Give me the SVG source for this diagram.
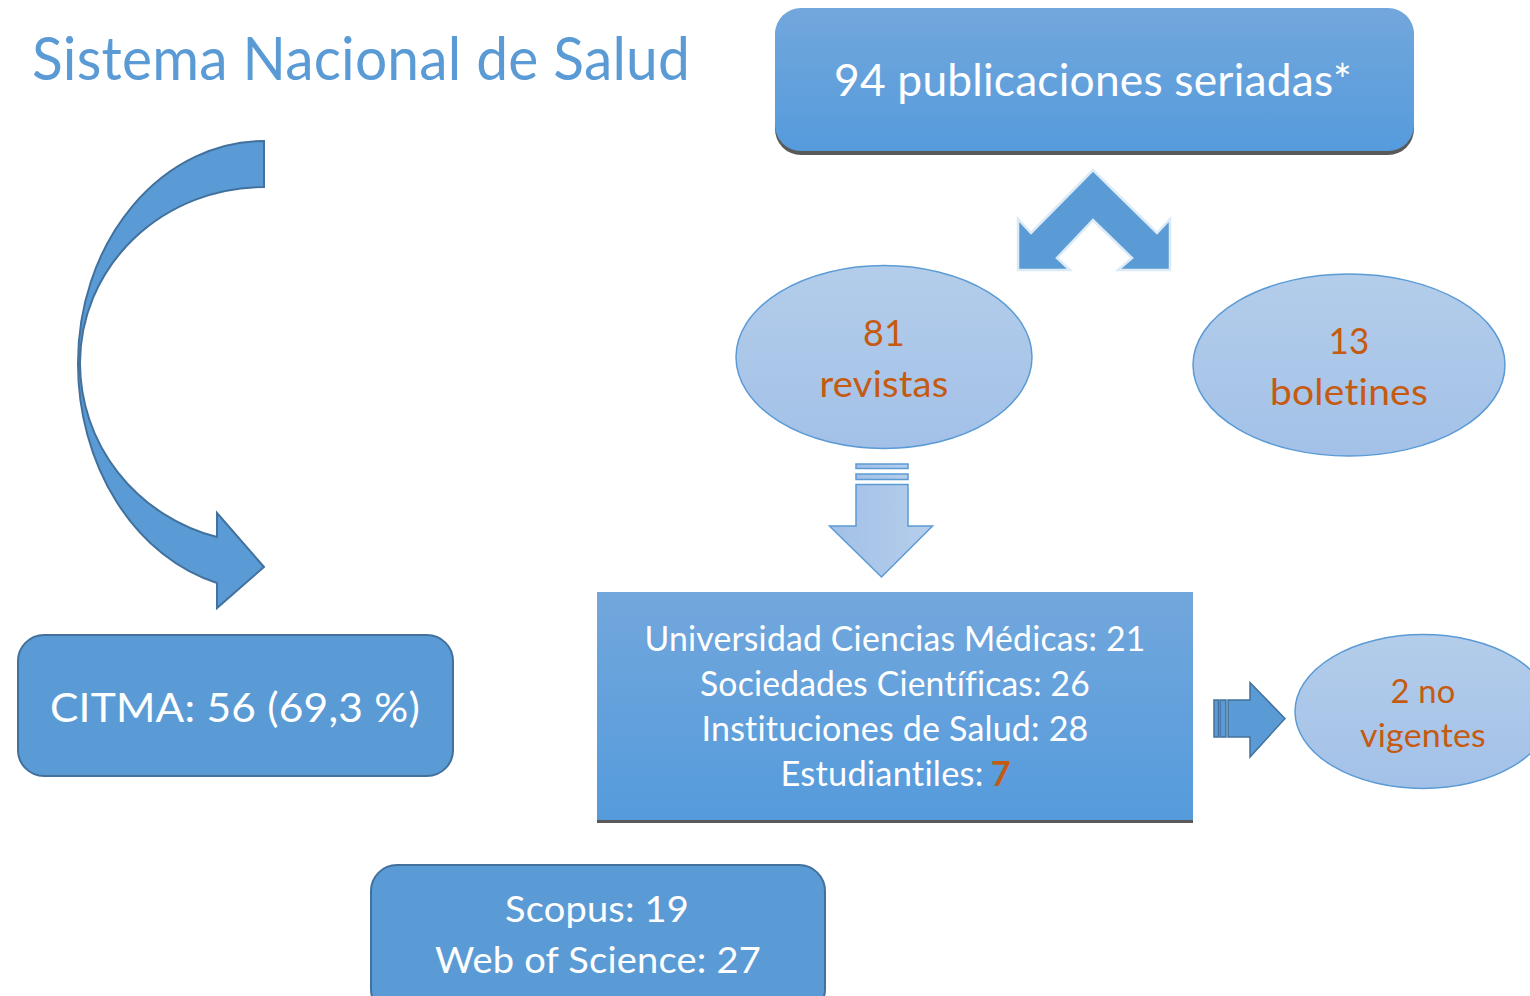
<svg xmlns="http://www.w3.org/2000/svg" width="1530" height="996" viewBox="0 0 1530 996">
<defs>
<linearGradient id="gBox" x1="0" y1="0" x2="0" y2="1">
<stop offset="0" stop-color="#72A7DC"/>
<stop offset="1" stop-color="#559BDC"/>
</linearGradient>
<linearGradient id="gEll" x1="0" y1="0" x2="0" y2="1">
<stop offset="0" stop-color="#B3CDEA"/>
<stop offset="1" stop-color="#A3C1E8"/>
</linearGradient>
<linearGradient id="gDown" x1="0" y1="0" x2="1" y2="0">
<stop offset="0" stop-color="#A2C0E7"/>
<stop offset="1" stop-color="#B5CEEB"/>
</linearGradient>
</defs>
<style>
text{font-family:"Lato","Open Sans","Liberation Sans",sans-serif;text-anchor:middle;font-variant-ligatures:none;font-feature-settings:"liga" 0,"dlig" 0,"clig" 0;letter-spacing:0.2px}
.w{fill:#FFFFFF}
.o{fill:#C55A11}
.solid{fill:#5B9BD5;stroke:#41719C;stroke-width:2}
.ell{fill:url(#gEll);stroke:#5B9BD5;stroke-width:1.5}
</style>
<rect width="1530" height="996" fill="#FFFFFF"/>

<g id="title">
<text x="361" y="80" font-size="60" style="fill:#5B9BD5" textLength="658" lengthAdjust="spacingAndGlyphs">Sistema Nacional de Salud</text>
</g>

<g id="connectors">
<g id="curved-arrow">
<path class="solid" d="M78,363 A186,227 0 0 0 217,583 L217,608 L264,567 L217,513 L217,537 A184,180 0 0 1 80,363 Z"/>
<path class="solid" d="M264,141 A186,222 0 0 0 78,363 L80,363 A184,176 0 0 1 264,187 Z"/>
</g>
<g id="split-arrow">
<polygon points="1018,219 1018,270 1070,270 1057,258 1093,220 1132,258 1118,270 1170,270 1170,219 1157,233 1093,170 1031,233" fill="#5B9BD5" stroke="#DDEBF7" stroke-width="2.5" stroke-linejoin="miter"/>
</g>
<g id="down-arrow" fill="url(#gDown)" stroke="#5B9BD5" stroke-width="1.5">
<rect x="856" y="464" width="52" height="4.5"/>
<rect x="856" y="474" width="52" height="5.5"/>
<polygon points="856,484.5 908,484.5 908,526 932.5,526 881.5,577 829.5,526 856,526"/>
</g>
<g id="right-arrow" fill="#5B9BD5" stroke="#41719C" stroke-width="1.5">
<rect x="1214" y="700" width="4.5" height="37"/>
<rect x="1220" y="700" width="6" height="37"/>
<polygon points="1228,700 1250,700 1250,682.5 1285,718.5 1250,757 1250,737 1228,737"/>
</g>
</g>

<g id="node-publicaciones">
<rect x="775" y="11" width="639" height="144" rx="26" fill="#595959"/>
<rect x="775" y="8" width="639" height="143" rx="26" fill="url(#gBox)"/>
<text class="w" x="1093" y="96" font-size="44" textLength="518" lengthAdjust="spacingAndGlyphs">94 publicaciones seriadas*</text>
</g>

<g id="node-revistas">
<ellipse class="ell" cx="884" cy="357" rx="148" ry="91.5"/>
<text class="o" x="884" y="346" font-size="36" textLength="42" lengthAdjust="spacingAndGlyphs">81</text>
<text class="o" x="884" y="397" font-size="36" textLength="129" lengthAdjust="spacingAndGlyphs">revistas</text>
</g>

<g id="node-boletines">
<ellipse class="ell" cx="1349" cy="365" rx="156" ry="91"/>
<text class="o" x="1349" y="354" font-size="36" textLength="41" lengthAdjust="spacingAndGlyphs">13</text>
<text class="o" x="1349" y="405" font-size="36" textLength="158" lengthAdjust="spacingAndGlyphs">boletines</text>
</g>

<g id="node-instituciones">
<rect x="597" y="595" width="596" height="228" fill="#595959"/>
<rect x="597" y="592" width="596" height="228" fill="url(#gBox)"/>
<text class="w" x="895" y="651" font-size="34" textLength="501" lengthAdjust="spacingAndGlyphs">Universidad Ciencias Médicas: 21</text>
<text class="w" x="895" y="696" font-size="34" textLength="390" lengthAdjust="spacingAndGlyphs">Sociedades Científicas: 26</text>
<text class="w" x="895" y="741" font-size="34" textLength="387" lengthAdjust="spacingAndGlyphs">Instituciones de Salud: 28</text>
<text class="w" x="882" y="786" font-size="34" textLength="203" lengthAdjust="spacingAndGlyphs">Estudiantiles: </text>
<text x="1001" y="786" font-size="34" font-weight="bold" style="fill:#C55A11">7</text>
</g>

<g id="node-novigentes">
<ellipse class="ell" cx="1423" cy="711.5" rx="128" ry="77"/>
<text class="o" x="1423" y="703" font-size="32" textLength="65" lengthAdjust="spacingAndGlyphs">2 no</text>
<text class="o" x="1423" y="747" font-size="32" textLength="126" lengthAdjust="spacingAndGlyphs">vigentes</text>
</g>

<g id="node-citma">
<rect class="solid" x="18" y="635" width="435" height="141" rx="26"/>
<text class="w" x="235" y="722" font-size="40" textLength="370" lengthAdjust="spacingAndGlyphs">CITMA: 56 (69,3 %)</text>
</g>

<g id="node-indexadas">
<rect class="solid" x="371" y="865" width="454" height="150" rx="26"/>
<text class="w" x="597" y="922" font-size="36" textLength="184" lengthAdjust="spacingAndGlyphs">Scopus: 19</text>
<text class="w" x="598" y="973" font-size="36" textLength="326" lengthAdjust="spacingAndGlyphs">Web of Science: 27</text>
</g>
</svg>
